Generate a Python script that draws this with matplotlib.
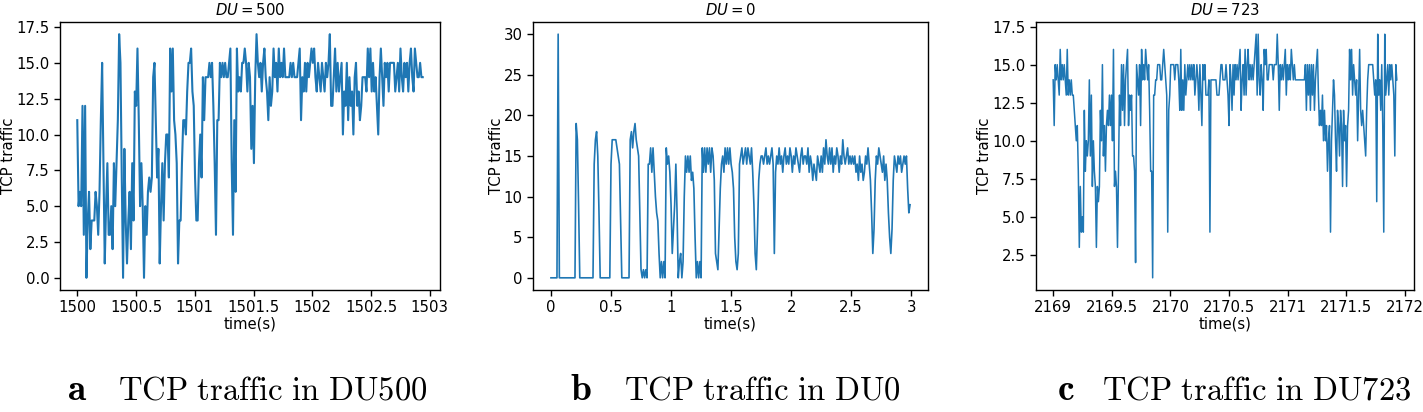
import numpy as np
import matplotlib
matplotlib.use("Agg")
import matplotlib.pyplot as plt

# ---------------- data ----------------
du500_start, du500_end = 1500.0, 1502.94
du500_values = [
    11, 5, 6, 5, 12, 3, 12, 0, 4, 6, 2, 4, 4, 4, 6, 5, 3, 6, 11, 15, 8, 1, 5, 8, 3, 3, 5, 2, 8, 5,
    8, 11, 17, 15, 7, 0, 9, 4, 1, 4, 6, 2, 8, 4, 13, 12, 16, 11, 5, 8, 5, 0, 5, 3, 6, 7, 6, 7, 14, 15,
    11, 7, 9, 1, 5, 8, 4, 8, 10, 10, 7, 16, 13, 16, 11, 10, 8, 1, 4, 4, 8, 11, 11, 10, 13, 15, 15, 16, 13, 12,
    7, 4, 4, 8, 10, 7, 14, 11, 14, 14, 14, 15, 14, 15, 12, 8, 3, 11, 11, 15, 14, 15, 14, 15, 14, 14, 15, 16, 8, 3,
    11, 6, 16, 13, 14, 13, 15, 15, 16, 15, 13, 15, 14, 9, 12, 8, 14, 17, 15, 14, 15, 13, 15,
    16, 14, 13, 11, 14, 12, 13, 16, 14, 15, 13, 16, 14, 15, 14, 16, 14, 14, 14, 14, 15, 14, 15, 14, 14, 14, 15, 16, 11, 14,
    13, 15, 13, 15, 14, 15, 16, 15, 16, 14, 13, 15, 14, 13, 15, 14, 13, 15, 14, 15, 17, 12, 12, 14, 16, 13, 15, 13, 14, 15,
    10, 13, 12, 15, 11, 14, 12, 13, 10, 14, 15, 12, 13, 11, 12, 14, 14, 14, 13, 16, 14, 16, 13, 15, 13, 14, 12, 10, 14, 16,
    14, 12, 15, 14, 15, 13, 15, 15, 15, 15, 13, 14, 15, 13, 16, 14, 13, 15, 14, 15, 13, 15, 16, 14, 13, 16, 15, 14, 14, 15,
    14, 14,
]

du0_step = 0.01
du0_values = [
    0, 0, 0, 0, 0, 0, 30, 0, 0, 0, 0, 0, 0, 0, 0, 0, 0, 0, 0, 0,
    0, 19, 17, 9, 0, 0, 0, 0, 0, 0, 0, 0, 0, 0, 0, 0, 14, 17, 18, 15,
    8, 0, 0, 0, 0, 0, 0, 0, 0, 0, 14, 17, 17, 17, 17, 16, 15, 14, 7, 0,
    0, 0, 0, 0, 0, 0, 17, 18, 16, 18, 19, 17, 16, 15, 8, 1, 0, 1, 0, 1,
    0, 14, 14, 16, 13, 16, 13, 10, 8, 7, 3, 0, 2, 0, 2, 0, 16, 14, 15, 13,
    9, 3, 6, 9, 14, 8, 0, 2, 3, 0, 2, 10, 15, 13, 15, 13, 15, 12, 13, 11,
    5, 0, 2, 0, 2, 0, 16, 13, 16, 13, 16, 14, 16, 13, 16, 15, 12, 3, 2, 1,
    6, 11, 14, 15, 13, 16, 14, 16, 14, 16, 14, 13, 11, 5, 2, 1, 3, 14, 15, 16,
    14, 15, 16, 14, 16, 15, 14, 16, 13, 9, 3, 1, 6, 12, 14, 15, 15, 14, 15, 16,
    14, 15, 14, 15, 16, 14, 3, 13, 15, 14, 16, 14, 15, 13, 15, 16, 14, 15, 14, 16,
    15, 13, 15, 14, 16, 15, 14, 13, 15, 16, 14, 15, 15, 14, 16, 13, 15, 14, 12, 14,
    13, 12, 15, 14, 13, 15, 13, 16, 14, 17, 15, 14, 16, 14, 16, 13, 15, 14, 16, 15,
    13, 15, 14, 17, 15, 14, 15, 16, 14, 15, 14, 15, 14, 15, 13, 14, 12, 15, 13, 14,
    12, 13, 15, 14, 16, 14, 12, 8, 3, 6, 12, 15, 14, 16, 15, 14, 13, 15, 12, 14,
    12, 8, 5, 3, 6, 12, 15, 14, 13, 15, 14, 15, 13, 14, 15, 14, 15, 11, 8, 9,
]

du723_start, du723_end = 2169.0, 2171.93
du723_values = [
    14, 11, 15, 14, 15, 14, 13, 16, 14, 15, 14, 15, 14, 13, 16, 13, 14, 13, 14, 13,
    13, 12, 11, 10, 11, 8, 3, 7, 4, 5, 4, 12, 8, 10, 9, 10, 14, 9, 13, 7,
    10, 8, 7, 3, 7, 6, 7, 12, 10, 15, 9, 11, 8, 11, 12, 11, 13, 11, 13, 10,
    16, 7, 8, 7, 3, 8, 13, 11, 15, 12, 15, 11, 14, 15, 16, 11, 13, 12, 13, 9,
    9, 8, 2, 15, 14, 13, 15, 11, 16, 14, 15, 14, 16, 15, 14, 15, 12, 8, 8, 1,
    13, 13, 14, 14, 15, 15, 15, 14, 14, 15, 16, 15, 14, 13, 4, 12, 13, 15, 15, 15,
    15, 14, 15, 15, 15, 14, 12, 16, 12, 14, 12, 15, 13, 14, 15, 14, 15, 14, 15, 14,
    15, 13, 14, 15, 14, 12, 15, 13, 11, 15, 14, 15, 13, 13, 13, 14, 4, 14, 14, 14,
    14, 14,
    14, 13, 13, 13, 14, 15, 15, 14, 14, 14, 15, 14, 13, 11, 15, 14, 12, 15, 13, 15,
    14, 15, 14, 15, 16, 12, 14, 15, 13, 16, 13, 15, 16, 14, 15, 14, 15, 14, 15, 16,
    17, 13, 17, 14, 13, 15, 14, 12, 16, 15, 16, 14, 14, 15, 15, 15, 15, 14, 15, 15,
    15, 17, 15, 12, 15, 14, 15, 14, 15, 16, 13, 15, 14, 15, 14, 16, 15, 14, 15, 14,
    14, 14, 14, 14, 14, 14, 14, 14, 14, 15, 12, 15, 13, 15, 12, 15, 13, 15, 12, 14,
    15, 16, 13, 11, 12, 11, 13, 10, 12, 10, 11, 8, 10, 11, 4, 10, 12, 14, 13, 10,
    8, 12, 11, 9, 12, 11, 7, 12, 10, 11, 7, 11, 12, 16, 14, 16, 13, 15, 14, 13,
    14, 10, 13, 16, 12, 11, 12, 11, 10, 9, 12, 14, 15, 15, 15, 15, 15, 14, 13, 14,
    6, 17, 13, 14, 12, 15, 11, 4, 17, 13, 14, 15, 13, 15, 14, 15, 14, 13, 9, 15,
    14,
]

titles = [r"$DU=500$", r"$DU=0$", r"$DU=723$"]
caption_letters = ["a", "b", "c"]
caption_texts = ["TCP traffic in DU500", "TCP traffic in DU0", "TCP traffic in DU723"]

xticks_a = [1500, 1500.5, 1501, 1501.5, 1502, 1502.5, 1503]
xticklabels_a = ["1500", "1500.5", "1501", "1501.5", "1502", "1502.5", "1503"]
yticks_a = [0.0, 2.5, 5.0, 7.5, 10.0, 12.5, 15.0, 17.5]

xticks_b = [0, 0.5, 1, 1.5, 2, 2.5, 3]
xticklabels_b = ["0", "0.5", "1", "1.5", "2", "2.5", "3"]
yticks_b = [0, 5, 10, 15, 20, 25, 30]

xticks_c = [2169, 2169.5, 2170, 2170.5, 2171, 2171.5, 2172]
xticklabels_c = ["2169", "2169.5", "2170", "2170.5", "2171", "2171.5", "2172"]
yticks_c = [2.5, 5.0, 7.5, 10.0, 12.5, 15.0, 17.5]

# ---------------- figure ----------------
W, H = 1423, 412
fig = plt.figure(figsize=(W / 100, H / 100), dpi=100)
FS = 10.7
color = "#1f77b4"

def frac_box(x0, x1, ytop=22, ybot=290):
    return [x0 / W, (H - ybot) / H, (x1 - x0) / W, (ybot - ytop) / H]

axes = [fig.add_axes(frac_box(60, 440)),
        fig.add_axes(frac_box(533, 928)),
        fig.add_axes(frac_box(1036, 1414))]

t_a = np.linspace(du500_start, du500_end, len(du500_values))
t_b = np.arange(len(du0_values)) * du0_step
t_c = np.linspace(du723_start, du723_end, len(du723_values))

axes[0].plot(t_a, du500_values, color=color, lw=1.5)
axes[1].plot(t_b, du0_values, color=color, lw=1.2)
axes[2].plot(t_c, du723_values, color=color, lw=1.1)

for ax, xt, xtl, yt in zip(axes, [xticks_a, xticks_b, xticks_c],
                           [xticklabels_a, xticklabels_b, xticklabels_c],
                           [yticks_a, yticks_b, yticks_c]):
    ax.set_xticks(xt)
    ax.set_xticklabels(xtl)
    ax.set_yticks(yt)
    ax.tick_params(labelsize=FS, width=1.0, length=4)
    for s in ax.spines.values():
        s.set_linewidth(1.0)

axes[0].set_yticklabels([f"{v:.1f}" for v in yticks_a])
axes[1].set_yticklabels([f"{v:d}" for v in yticks_b])
axes[2].set_yticklabels([f"{v:.1f}" for v in yticks_c])

for ax, ttl in zip(axes, titles):
    ax.set_title(ttl, fontsize=FS, pad=5)
    ax.set_xlabel("time(s)", fontsize=FS, labelpad=1)
    ax.set_ylabel("TCP traffic", fontsize=FS, labelpad=0)

letter_centers = [77, 581, 1066]
text_centers = [273, 762, 1257]
for letter, text, lx, tx in zip(caption_letters, caption_texts, letter_centers, text_centers):
    fig.text(lx / W, 0.03, r"$\mathbf{%s}$" % letter,
             ha="center", va="baseline", fontsize=27, math_fontfamily="cm")
    fig.text(tx / W, 0.03, r"$\mathrm{%s}$" % text.replace(" ", r"\ "),
             ha="center", va="baseline", fontsize=23.5, math_fontfamily="cm")

fig.savefig("out.png", dpi=100)
